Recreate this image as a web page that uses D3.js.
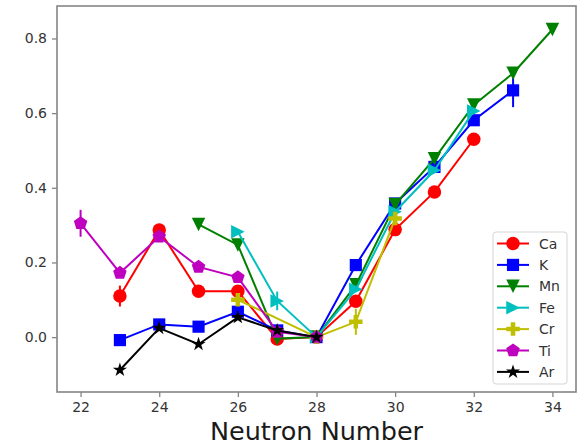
<!DOCTYPE html>
<html>
<head>
<meta charset="utf-8">
<script src="https://cdn.jsdelivr.net/npm/d3@7"></script>
<style>
  body { margin: 0; background: #fff; }
  svg { display: block; font-family: "DejaVu Sans", sans-serif; }
</style>
</head>
<body>
<svg id="chart" width="584" height="445"></svg>
<script>
// neutron numbers, values and error bars
const caN = [23, 24, 25, 26, 27, 28, 29, 30, 31, 32];
const caV = [0.110, 0.287, 0.123, 0.123, -0.005, 0.0, 0.096, 0.288, 0.389, 0.530];
const caE = [0.028, 0, 0, 0, 0, 0, 0, 0, 0, 0];

const kN = [23, 24, 25, 26, 27, 28, 29, 30, 31, 32, 33];
const kV = [-0.008, 0.034, 0.028, 0.068, 0.018, 0.0, 0.193, 0.358, 0.456, 0.581, 0.661];
const kE = [0, 0, 0, 0, 0, 0, 0, 0, 0, 0, 0.045];

const mnN = [25, 26, 27, 28, 29, 30, 31, 32, 33, 34];
const mnV = [0.302, 0.247, -0.004, 0.0, 0.140, 0.355, 0.478, 0.622, 0.707, 0.824];
const mnE = [0, 0, 0, 0, 0, 0, 0, 0, 0, 0];

const feN = [26, 27, 28, 29, 30, 31, 32];
const feV = [0.282, 0.097, 0.0, 0.128, 0.336, 0.447, 0.606];
const feE = [0, 0.025, 0, 0, 0, 0, 0];

const crN = [26, 28, 29, 30];
const crV = [0.100, 0.0, 0.041, 0.318];
const crE = [0, 0, 0.035, 0];

const tiN = [22, 23, 24, 25, 26, 27, 28];
const tiV = [0.305, 0.172, 0.269, 0.188, 0.160, 0.014, 0.0];
const tiE = [0.036, 0, 0, 0, 0, 0, 0];

const arN = [23, 24, 25, 26, 27, 28];
const arV = [-0.088, 0.024, -0.019, 0.053, 0.018, 0.0];
const arE = [0, 0, 0, 0, 0, 0];

const xTicks = [22, 24, 26, 28, 30, 32, 34];
const yTicks = [0.0, 0.2, 0.4, 0.6, 0.8];

const series = [
  { name: "Ca", n: caN, v: caV, e: caE, color: "#ff0000", marker: "o" },
  { name: "K",  n: kN,  v: kV,  e: kE,  color: "#0000ff", marker: "s" },
  { name: "Mn", n: mnN, v: mnV, e: mnE, color: "#008000", marker: "v" },
  { name: "Fe", n: feN, v: feV, e: feE, color: "#00bfbf", marker: ">" },
  { name: "Cr", n: crN, v: crV, e: crE, color: "#bfbf00", marker: "P" },
  { name: "Ti", n: tiN, v: tiV, e: tiE, color: "#bf00bf", marker: "p" },
  { name: "Ar", n: arN, v: arV, e: arE, color: "#000000", marker: "*" }
];

const svg = d3.select("#chart");
const plotL = 57, plotR = 576, plotT = 6, plotB = 392;

const x = d3.scaleLinear().domain([21.4, 34.6]).range([plotL, plotR]);
const y = d3.scaleLinear().domain([-0.147, 0.887]).range([plotB, plotT]);

const frameColor = "#858585";
const textColor = "#333";

// matplotlib-like marker outlines, ms = marker size in px
function markerPath(type, ms) {
  const h = ms / 2;
  const poly = pts => "M" + pts.map(p => p[0].toFixed(2) + "," + p[1].toFixed(2)).join("L") + "Z";
  const regular = (k, r, inner) => {
    const pts = [];
    const count = inner ? k * 2 : k;
    for (let i = 0; i < count; i++) {
      const a = -Math.PI / 2 + i * Math.PI * 2 / count;
      const rr = inner && i % 2 ? r * inner : r;
      pts.push([rr * Math.cos(a), rr * Math.sin(a)]);
    }
    return poly(pts);
  };
  switch (type) {
    case "o": return d3.symbol(d3.symbolCircle, Math.PI * h * h)();
    case "s": { const s = h * 0.9; return poly([[-s, -s], [s, -s], [s, s], [-s, s]]); }
    case "v": return poly([[-h, -h], [h, -h], [0, h]]);
    case ">": return poly([[-h, -h], [h, 0], [-h, h]]);
    case "P": {
      const u = ms / 6;
      return poly([[-u, -3 * u], [u, -3 * u], [u, -u], [3 * u, -u], [3 * u, u], [u, u],
                   [u, 3 * u], [-u, 3 * u], [-u, u], [-3 * u, u], [-3 * u, -u], [-u, -u]]);
    }
    case "p": return regular(5, h * 1.05);
    case "*": return regular(5, h * 1.1, 0.382);
  }
}

// frame
svg.append("rect")
  .attr("x", plotL).attr("y", plotT)
  .attr("width", plotR - plotL).attr("height", plotB - plotT)
  .attr("fill", "none").attr("stroke", frameColor).attr("stroke-width", 1.6);

// axes
const xAxis = svg.append("g")
  .attr("transform", `translate(0,${plotB})`)
  .call(d3.axisBottom(x).tickValues(xTicks).tickFormat(d3.format("d")).tickSizeOuter(0).tickSize(5).tickPadding(5));
const yAxis = svg.append("g")
  .attr("transform", `translate(${plotL},0)`)
  .call(d3.axisLeft(y).tickValues(yTicks).tickFormat(d3.format(".1f")).tickSizeOuter(0).tickSize(5).tickPadding(5));

[xAxis, yAxis].forEach(g => {
  g.select(".domain").remove();
  g.selectAll(".tick line").attr("stroke", frameColor).attr("stroke-width", 1.3);
  g.selectAll(".tick text").attr("fill", textColor).attr("font-size", 14)
    .attr("font-family", "DejaVu Sans, sans-serif");
});

svg.append("text")
  .attr("x", (plotL + plotR) / 2).attr("y", 440)
  .attr("text-anchor", "middle")
  .attr("font-size", 25.5)
  .attr("fill", "#1a1a1a")
  .text("Neutron Number");

const line = d3.line().x(d => x(d.n)).y(d => y(d.v));
const plot = svg.append("g");
const ms = 13.5;

series.forEach(s => {
  const pts = s.n.map((n, i) => ({ n: n, v: s.v[i], e: s.e[i] }));
  const g = plot.append("g");
  g.append("path")
    .datum(pts)
    .attr("d", line)
    .attr("fill", "none")
    .attr("stroke", s.color)
    .attr("stroke-width", 2);
  g.selectAll("line.err")
    .data(pts.filter(d => d.e > 0))
    .enter().append("line")
    .attr("x1", d => x(d.n)).attr("x2", d => x(d.n))
    .attr("y1", d => y(d.v - d.e)).attr("y2", d => y(d.v + d.e))
    .attr("stroke", s.color).attr("stroke-width", 2);
  g.selectAll("path.mk")
    .data(pts)
    .enter().append("path")
    .attr("class", "mk")
    .attr("transform", d => `translate(${x(d.n)},${y(d.v)})`)
    .attr("d", markerPath(s.marker, ms))
    .attr("fill", s.color);
});

// legend
const lgX = 493, lgY = 232, lgW = 74, lgRow = 21.4;
svg.append("rect")
  .attr("x", lgX).attr("y", lgY)
  .attr("width", lgW).attr("height", 152)
  .attr("rx", 3)
  .attr("fill", "#fff").attr("fill-opacity", 0.8)
  .attr("stroke", "#d5d5d5").attr("stroke-width", 1);

const lg = svg.append("g").selectAll("g")
  .data(series)
  .enter().append("g")
  .attr("transform", (d, i) => `translate(${lgX},${lgY + 11.5 + i * lgRow})`);
lg.append("line")
  .attr("x1", 4).attr("x2", 36)
  .attr("stroke", d => d.color).attr("stroke-width", 2);
lg.append("path")
  .attr("transform", "translate(20,0)")
  .attr("d", d => markerPath(d.marker, ms))
  .attr("fill", d => d.color);
lg.append("text")
  .attr("x", 46).attr("y", 5)
  .attr("font-size", 14)
  .attr("fill", textColor)
  .text(d => d.name);
</script>
</body>
</html>
